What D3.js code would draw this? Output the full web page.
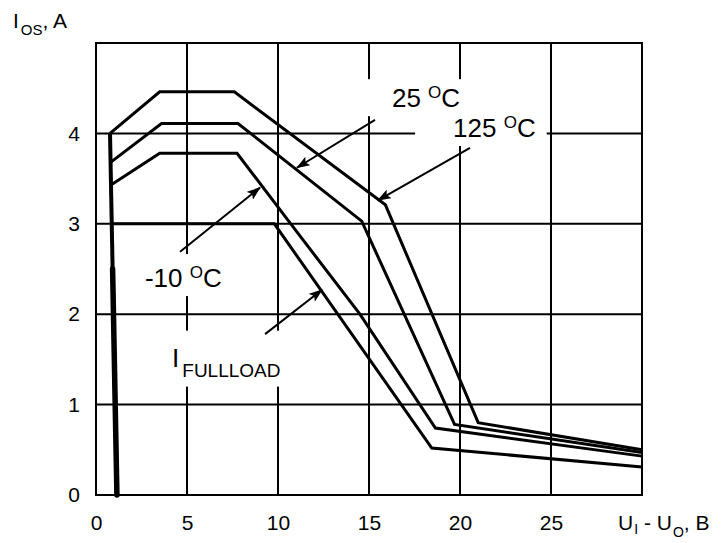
<!DOCTYPE html>
<html><head><meta charset="utf-8">
<script src="https://cdn.jsdelivr.net/npm/d3@7"></script>
<style>body{margin:0;background:#fff} svg{display:block}</style>
</head><body>
<script>
// ---- data ----
const xTicks = [0, 5, 10, 15, 20, 25];
const yTicks = [0, 1, 2, 3, 4];
const xGrid = [5, 10, 15, 20, 25];
const yGrid = [1, 2, 3, 4];
const curve125 = [[0.77,4.0],[3.5,4.46],[7.6,4.46],[15.9,3.21],[21.0,0.80],[30,0.50]];
const curve25  = [[0.80,3.68],[3.6,4.11],[7.8,4.11],[14.6,3.03],[19.7,0.78],[30,0.47]];
const curveM10 = [[0.82,3.43],[3.5,3.78],[7.75,3.78],[10.66,3.01],[14.5,2.0],[18.65,0.74],[30,0.43]];
const curveFull = [[0.86,3.0],[9.8,3.0],[18.45,0.52],[30,0.31]];
const verticalLine = [[0.77,4.0],[1.15,0]];
const verticalBar = [[0.9125,2.5],[1.15,0]];
// arrows: [from, to] in data units
const arrow25  = [[15.33,4.15],[11.04,3.62]];
const arrow125 = [[20.55,3.84],[15.49,3.26]];
const arrowM10 = [[4.62,2.69],[9.01,3.40]];
const arrowFull = [[9.29,1.78],[12.42,2.27]];

const W = 726, H = 543;
const m = {left: 96, top: 43, right: 84, bottom: 48};
const FONT = "'Liberation Sans', Arial, Helvetica, sans-serif";

const svg = d3.select("body").append("svg").attr("width", W).attr("height", H)
  .style("font-family", FONT);

const x = d3.scaleLinear().domain([0, 30]).range([m.left, W - m.right]);
const y = d3.scaleLinear().domain([0, 5]).range([H - m.bottom, m.top]);

// grid
const g = svg.append("g");
g.selectAll("line.vx").data(xGrid).join("line")
  .attr("x1", d => x(d)).attr("x2", d => x(d))
  .attr("y1", y(0)).attr("y2", y(5))
  .attr("stroke", "#000").attr("stroke-width", 2);
g.selectAll("line.hy").data(yGrid).join("line")
  .attr("y1", d => y(d)).attr("y2", d => y(d))
  .attr("x1", x(0)).attr("x2", x(30))
  .attr("stroke", "#000").attr("stroke-width", 2);
g.append("rect").attr("x", x(0)).attr("y", y(5))
  .attr("width", x(30) - x(0)).attr("height", y(0) - y(5))
  .attr("fill", "none").attr("stroke", "#000").attr("stroke-width", 2);

// axes tick labels via d3 axes (domain/ticks hidden)
const xAxis = svg.append("g").attr("transform", `translate(0,${y(0)})`)
  .call(d3.axisBottom(x).tickValues(xTicks).tickFormat(d3.format("d")).tickSize(0).tickPadding(20));
xAxis.select(".domain").remove();
xAxis.selectAll("text").attr("font-size", 21).attr("font-family", FONT).attr("fill", "#000");

const yAxis = svg.append("g").attr("transform", `translate(${x(0)},0)`)
  .call(d3.axisLeft(y).tickValues(yTicks).tickFormat(d3.format("d")).tickSize(0).tickPadding(16));
yAxis.select(".domain").remove();
yAxis.selectAll("text").attr("font-size", 21).attr("font-family", FONT).attr("fill", "#000");

// labels layer (white boxes knock out the grid like in the original)
const boxes = svg.append("g");
const labels = svg.append("g");

function tempLabel(px, py, num, pad) {
  const t = labels.append("text").attr("x", x(px)).attr("y", y(py))
    .attr("font-size", 26).attr("fill", "#000");
  t.append("tspan").text(num + " ");
  t.append("tspan").attr("font-size", 17).attr("dy", -9).text("O");
  t.append("tspan").attr("dy", 9).text("C");
  addBox(t, pad);
  return t;
}
function addBox(t, pad) {
  const b = t.node().getBBox();
  boxes.append("rect").attr("x", b.x - pad[0]).attr("y", b.y - pad[1])
    .attr("width", b.width + pad[0] + pad[2]).attr("height", b.height + pad[1] + pad[3])
    .attr("fill", "#fff");
}

// curves
const line = d3.line().x(d => x(d[0])).y(d => y(d[1]));
const curves = svg.append("g");
[curve125, curve25, curveM10, curveFull].forEach(c => {
  curves.append("path").attr("d", line(c)).attr("fill", "none")
    .attr("stroke", "#000").attr("stroke-width", 3).attr("stroke-linejoin", "miter");
});
curves.append("path").attr("d", line(verticalLine)).attr("fill", "none")
  .attr("stroke", "#000").attr("stroke-width", 4);
curves.append("path").attr("d", line(verticalBar)).attr("fill", "none")
  .attr("stroke", "#000").attr("stroke-width", 5.5).attr("stroke-linecap", "round");

tempLabel(16.26, 4.29, "25", [32, 4, 5, 3]);
tempLabel(19.62, 3.96, "125", [38, 4, 11, 3]);
tempLabel(2.69, 2.30, "-10", [5, 9, 5, 3]);

const fl = labels.append("text").attr("x", x(4.18)).attr("y", y(1.42))
  .attr("font-size", 26).attr("fill", "#000");
fl.append("tspan").text("I");
fl.append("tspan").attr("font-size", 19).attr("dy", 10).attr("dx", 3).text("FULLLOAD");
addBox(fl, [7, 12, 7, 6]);

// arrows
const defs = svg.append("defs");
defs.append("marker").attr("id", "ah").attr("viewBox", "0 0 14 10")
  .attr("refX", 13).attr("refY", 5).attr("markerWidth", 14).attr("markerHeight", 10)
  .attr("markerUnits", "userSpaceOnUse").attr("orient", "auto")
  .append("path").attr("d", "M0,0 L14,5 L0,10 L3,5 Z").attr("fill", "#000");
const arr = svg.append("g");
[arrow25, arrow125, arrowM10, arrowFull].forEach(a => {
  arr.append("path").attr("d", line(a)).attr("stroke", "#000").attr("stroke-width", 2)
    .attr("fill", "none").attr("marker-end", "url(#ah)");
});

// axis titles
const yt = svg.append("text").attr("x", 13).attr("y", 28).attr("font-size", 21).attr("fill", "#000");
yt.append("tspan").text("I");
yt.append("tspan").attr("font-size", 15).attr("dy", 7).attr("dx", 2).text("OS");
yt.append("tspan").attr("dy", -7).text(", A");

const xt = svg.append("text").attr("x", 618).attr("y", 530).attr("font-size", 21).attr("fill", "#000");
xt.append("tspan").text("U");
xt.append("tspan").attr("font-size", 14).attr("dy", 4).attr("dx", 1).text("I");
xt.append("tspan").attr("dy", -4).text(" - U");
xt.append("tspan").attr("font-size", 14).attr("dy", 7).attr("dx", 1).text("O");
xt.append("tspan").attr("dy", -7).text(", B");
</script>
</body></html>
